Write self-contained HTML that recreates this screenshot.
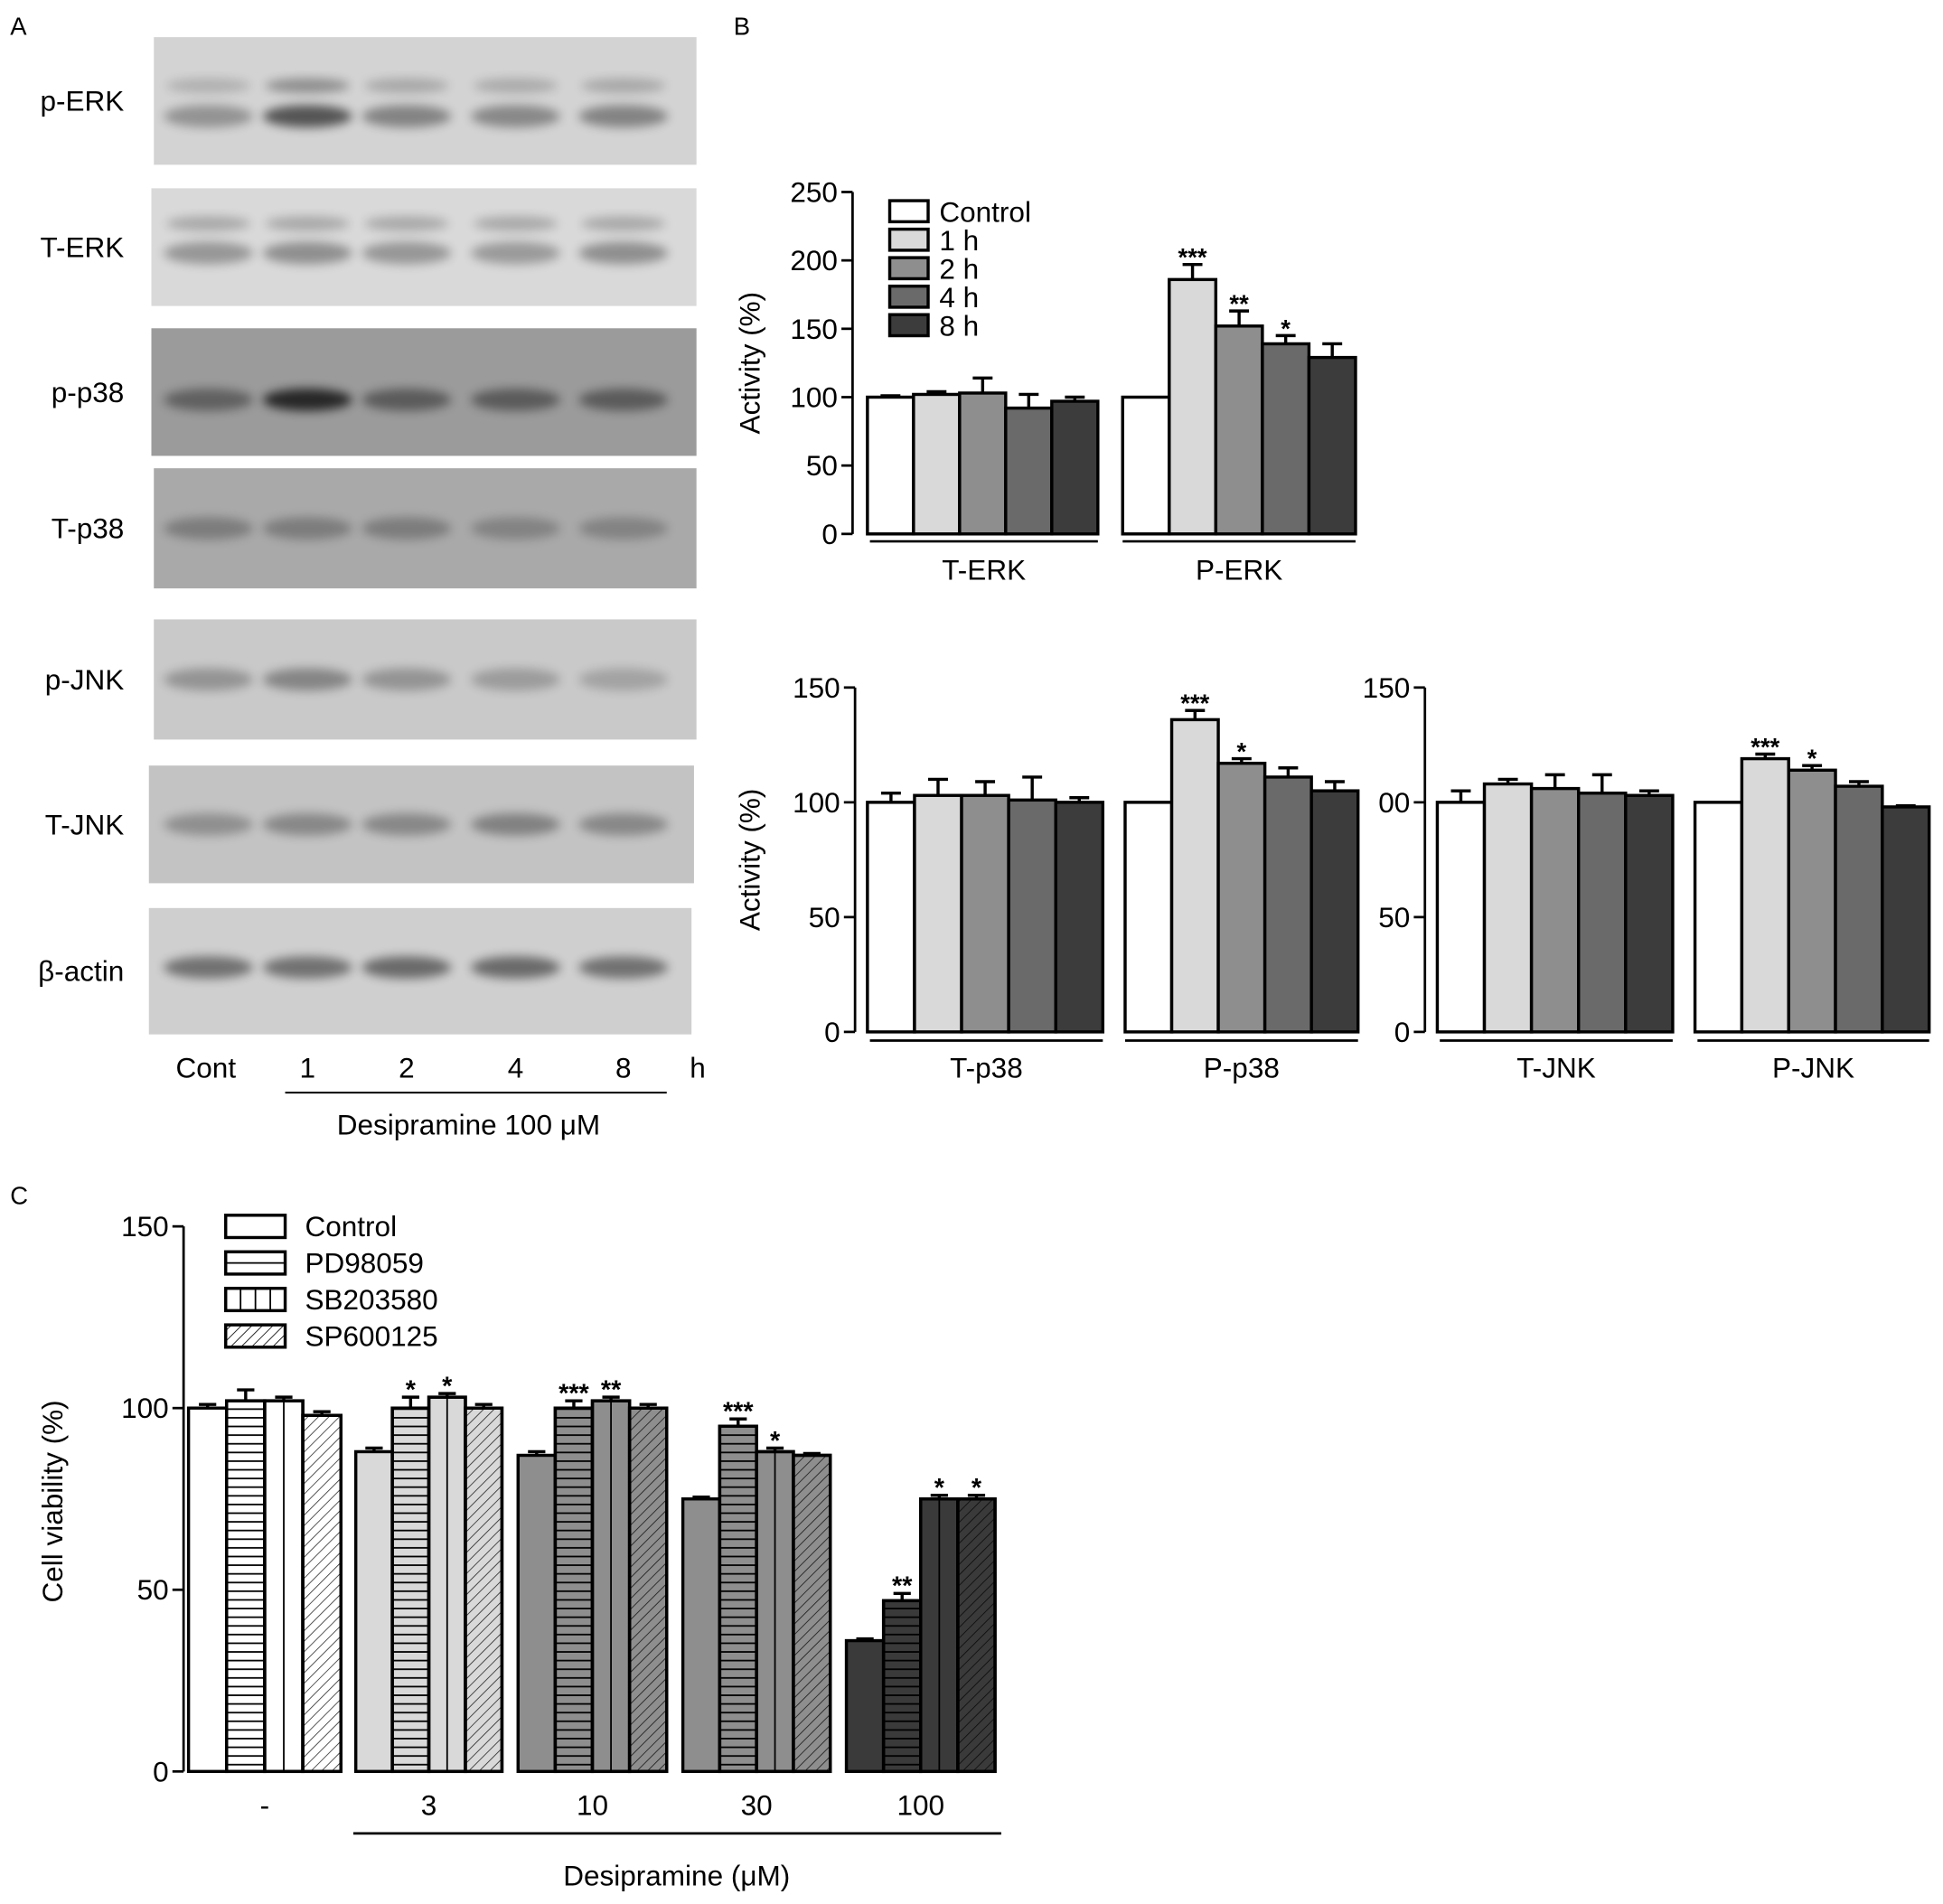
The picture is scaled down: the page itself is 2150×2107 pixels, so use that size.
<!DOCTYPE html>
<html><head><meta charset="utf-8"><style>
html,body{margin:0;padding:0;background:#fff;}
svg{display:block;font-family:"Liberation Sans",Arial,sans-serif;}
</style></head><body>
<svg id="fig" width="2150" height="2107" viewBox="0 0 1568 1537" xmlns="http://www.w3.org/2000/svg">
<defs>
<filter id="blur" x="-50%" y="-50%" width="200%" height="200%"><feGaussianBlur stdDeviation="4"/></filter>
<pattern id="hstripe" width="8" height="7" patternUnits="userSpaceOnUse"><line x1="0" y1="3.5" x2="8" y2="3.5" stroke="#000" stroke-width="1.3"/></pattern>
<pattern id="diag" width="6" height="6" patternUnits="userSpaceOnUse" patternTransform="rotate(45)"><line x1="0" y1="0" x2="0" y2="6" stroke="#000" stroke-width="1.2"/></pattern>
</defs>
<g id="root"></g>
</svg>
<script>
// ---------- Panel B data ----------
const groupsTop = ["T-ERK","P-ERK"];
const valsTERK = [100,102,103,92,97];
const errTERK = [1,2,11,10,3];
const valsPERK = [100,186,152,139,129];
const errPERK = [0,11,11,6,10];
const starsPERK = ["","***","**","*",""];
const ticksTop = [0,50,100,150,200,250];
const legendB = ["Control","1 h","2 h","4 h","8 h"];

const valsTp38 = [100,103,103,101,100];
const errTp38 = [4,7,6,10,2];
const valsPp38 = [100,136,117,111,105];
const errPp38 = [0,4,2,4,4];
const starsPp38 = ["","***","*","",""];
const valsTJNK = [100,108,106,104,103];
const errTJNK = [5,2,6,8,2];
const valsPJNK = [100,119,114,107,98];
const errPJNK = [0,2,2,2,0.5];
const starsPJNK = ["","***","*","",""];
const ticksMid = [0,50,100,150];

// ---------- Panel C data ----------
const catsC = ["-","3","10","30","100"];
const seriesC = ["Control","PD98059","SB203580","SP600125"];
const valsC = [[100,102,102,98],[88,100,103,100],[87,100,102,100],[75,95,88,87],[36,47,75,75]];
const errC = [[1,3,1,1],[1,3,1,1],[1,2,1,1],[0.5,2,1,0.5],[0.5,2,1,1]];
const starsC = [["","","",""],["","*","*",""],["","***","**",""],["","***","*",""],["","**","*","*"]];
const ticksC = [0,50,100,150];

// ---------- Blot data ----------
const blotLabels = ["p-ERK","T-ERK","p-p38","T-p38","p-JNK","T-JNK","β-actin"];
const laneLabels = ["Cont","1","2","4","8"];

const NS="http://www.w3.org/2000/svg";
const root=document.getElementById('root');
function el(tag,attrs,parent,txt){const e=document.createElementNS(NS,tag);for(const k in attrs)e.setAttribute(k,attrs[k]);if(txt!==undefined)e.textContent=txt;(parent||root).appendChild(e);return e;}
const fills=["#ffffff","#d9d9d9","#8e8e8e","#6a6a6a","#3c3c3c"];
const FS=23;

let t=el('text',{x:8,y:28,'font-size':20},root,"A");

t=el('text',{x:592,y:28,'font-size':20},root,"B");

t=el('text',{x:8,y:972,'font-size':20},root,"C");


const blotBoxes=[[124,30,438,103,"#d3d3d3"],[122,152,440,95,"#d9d9d9"],[122,265,440,103,"#9b9b9b"],[124,378,438,97,"#a9a9a9"],[124,500,438,97,"#c9c9c9"],[120,618,440,95,"#c3c3c3"],[120,733,438,102,"#cfcfcf"]];
const laneX=[168,248,328,416,503];
const bandInt=[[0.4,0.8,0.5,0.47,0.5],[0.4,0.45,0.4,0.38,0.45],[0.5,1,0.55,0.55,0.55],[0.35,0.35,0.35,0.3,0.3],[0.35,0.45,0.35,0.3,0.25],[0.35,0.4,0.4,0.45,0.4],[0.6,0.6,0.65,0.65,0.6]];
const bandY=[0.62,0.55,0.56,0.5,0.5,0.5,0.47];
blotBoxes.forEach((b,i)=>{
  const g=el('g',{});
  
  
  el('rect',{x:b[0],y:b[1],width:b[2],height:b[3],fill:b[4]},g);
  laneX.forEach((lx,j)=>{
    const a=bandInt[i][j];
    el('ellipse',{cx:lx,cy:b[1]+b[3]*bandY[i],rx:36,ry:9,fill:'#000',opacity:a*0.75,filter:'url(#blur)'},g);
    if(i<2) el('ellipse',{cx:lx,cy:b[1]+b[3]*(i==0?0.38:0.3),rx:34,ry:6,fill:'#000',opacity:(i==0?a*0.4:0.22),filter:'url(#blur)'},g);
  });
  const lt=el('text',{x:100,y:b[1]+b[3]/2+8,'font-size':FS,'text-anchor':'end'},root,blotLabels[i]);
  
  
});
laneLabels.forEach((l,j)=>{
  const tt=el('text',{x:laneX[j]-(j==0?2:0),y:870,'font-size':FS,'text-anchor':'middle'},root,l);
  
  
});
t=el('text',{x:563,y:870,'font-size':FS,'text-anchor':'middle'},root,"h");

el('line',{x1:230,y1:882,x2:538,y2:882,stroke:'#000','stroke-width':1.5});
t=el('text',{x:378,y:916,'font-size':FS,'text-anchor':'middle'},root,"Desipramine 100 μM");


function barGroup(g,x0,x1,vals,errs,stars,yScale,fillsArr,name){
  const n=vals.length,w=(x1-x0)/n;
  vals.forEach((v,i)=>{
    const bx=x0+i*w,cx=bx+w/2,y=yScale(v),y0=yScale(0);
    const eT=yScale(v+errs[i]);
    if(errs[i]>0){
      const el1=el('path',{d:`M${cx},${y} V${eT} M${cx-8},${eT} H${cx+8}`,stroke:'#000','stroke-width':2.5,fill:'none'},g);
      
    }
    const r=el('rect',{x:bx,y:y,width:w,height:y0-y,fill:fillsArr[i],stroke:'#000','stroke-width':2.5},g);
    
    
    if(stars[i]){
      const s=el('text',{x:cx,y:eT+1,'font-size':20,'text-anchor':'middle','font-weight':'bold'},g,stars[i]);
      
      
    }
  });
}
function axis(g,ax,yScale,ticks,showLabels,labelFix){
  el('line',{x1:ax,y1:yScale(ticks[0]),x2:ax,y2:yScale(ticks[ticks.length-1]),stroke:'#000','stroke-width':2},g);
  ticks.forEach(tv=>{
    const y=yScale(tv);
    el('line',{x1:ax-9,y1:y,x2:ax,y2:y,stroke:'#000','stroke-width':2},g);
    let lbl=String(tv); if(labelFix&&labelFix[tv]!==undefined)lbl=labelFix[tv];
    const tt=el('text',{x:ax-12,y:y+8,'font-size':FS,'text-anchor':'end'},g,lbl);
    
    
  });
}
function underLine(g,x0,x1,y,lbl,ly){
  el('line',{x1:x0,y1:y,x2:x1,y2:y,stroke:'#000','stroke-width':2},g);
  const tt=el('text',{x:(x0+x1)/2,y:ly,'font-size':FS,'text-anchor':'middle'},g,lbl);
  
  
}

{
  const g=el('g',{});
  const ys=v=>431-v*(431-155)/250;
  axis(g,688,ys,ticksTop,true);
  barGroup(g,700,886,valsTERK,errTERK,["","","","",""],ys,fills,'t-erk');
  barGroup(g,906,1094,valsPERK,errPERK,starsPERK,ys,fills,'p-erk');
  underLine(g,702,886,437,groupsTop[0],468);
  underLine(g,906,1094,437,groupsTop[1],468);
  const yt=el('text',{x:0,y:0,'font-size':FS,'text-anchor':'middle',transform:'translate(613,293) rotate(-90)'},g,"Activity (%)");
  
  legendB.forEach((l,i)=>{
    const ly=162+i*23;
    const r=el('rect',{x:718,y:ly,width:31,height:17,fill:fills[i],stroke:'#000','stroke-width':2.5},g);
    
    const tt=el('text',{x:758,y:ly+17,'font-size':FS},g,l);
    
  });
}
{
  const g=el('g',{});
  const ys=v=>833-v*(833-555)/150;
  axis(g,690,ys,ticksMid,true);
  barGroup(g,700,890,valsTp38,errTp38,["","","","",""],ys,fills,'t-p38');
  barGroup(g,908,1096,valsPp38,errPp38,starsPp38,ys,fills,'p-p38');
  underLine(g,702,890,840,"T-p38",870);
  underLine(g,908,1096,840,"P-p38",870);
  const yt=el('text',{x:0,y:0,'font-size':FS,'text-anchor':'middle',transform:'translate(613,694) rotate(-90)'},g,"Activity (%)");
  
}
{
  const g=el('g',{});
  const ys=v=>833-v*(833-555)/150;
  axis(g,1150,ys,ticksMid,true,{100:"00"});
  barGroup(g,1160,1350,valsTJNK,errTJNK,["","","","",""],ys,fills,'t-jnk');
  barGroup(g,1368,1557,valsPJNK,errPJNK,starsPJNK,ys,fills,'p-jnk');
  underLine(g,1162,1350,840,"T-JNK",870);
  underLine(g,1370,1557,840,"P-JNK",870);
}

{
  const g=el('g',{});
  const ys=v=>1430-v*(1430-990)/150;
  axis(g,148,ys,ticksC,true);
  const gx=[[152,275],[287,405],[418,538],[551,670],[683,803]];
  const gFill=["#ffffff","#d9d9d9","#8e8e8e","#8e8e8e","#3a3a3a"];
  catsC.forEach((c,gi)=>{
    const [x0,x1]=gx[gi];const w=(x1-x0)/4;
    valsC[gi].forEach((v,si)=>{
      const bx=x0+si*w,cx=bx+w/2,y=ys(v),y0=ys(0),eT=ys(v+errC[gi][si]);
      const eb=el('path',{d:`M${cx},${y} V${eT} M${cx-7},${eT} H${cx+7}`,stroke:'#000','stroke-width':2.5,fill:'none'},g);
      
      const r=el('rect',{x:bx,y:y,width:w,height:y0-y,fill:gFill[gi],stroke:'#000','stroke-width':2.5},g);
      
      
      if(si==1) el('rect',{x:bx,y:y,width:w,height:y0-y,fill:'url(#hstripe)'},g);
      if(si==2) el('line',{x1:cx,y1:y,x2:cx,y2:y0,stroke:'#000','stroke-width':1.3},g);
      if(si==3) el('rect',{x:bx,y:y,width:w,height:y0-y,fill:'url(#diag)',opacity:0.8},g);
      if(si>0) el('rect',{x:bx,y:y,width:w,height:y0-y,fill:'none',stroke:'#000','stroke-width':2.5},g);
      if(starsC[gi][si]){
        const s=el('text',{x:cx,y:eT+1,'font-size':21,'text-anchor':'middle','font-weight':'bold'},g,starsC[gi][si]);
        
      }
    });
    const tl=el('text',{x:(x0+x1)/2,y:1465,'font-size':FS,'text-anchor':'middle'},g,c);
    
  });
  el('line',{x1:285,y1:1480,x2:808,y2:1480,stroke:'#000','stroke-width':2},g);
  const xt=el('text',{x:546,y:1522,'font-size':FS,'text-anchor':'middle'},g,"Desipramine (μM)");
  
  const yt=el('text',{x:0,y:0,'font-size':FS,'text-anchor':'middle',transform:'translate(50,1212) rotate(-90)'},g,"Cell viability (%)");
  
  seriesC.forEach((s,i)=>{
    const ly=981+i*29.5;
    const r=el('rect',{x:182,y:ly,width:48,height:18,fill:'#fff',stroke:'#000','stroke-width':2.5},g);
    
    if(i==1) el('line',{x1:182,y1:ly+9,x2:230,y2:ly+9,stroke:'#000','stroke-width':1.3},g);
    if(i==2) [194,206,218].forEach(xx=>el('line',{x1:xx,y1:ly,x2:xx,y2:ly+18,stroke:'#000','stroke-width':1.3},g));
    if(i==3) el('rect',{x:182,y:ly,width:48,height:18,fill:'url(#diag)'},g);
    const tt=el('text',{x:246,y:ly+17,'font-size':FS},g,s);
    
  });
}
</script>
</body></html>
